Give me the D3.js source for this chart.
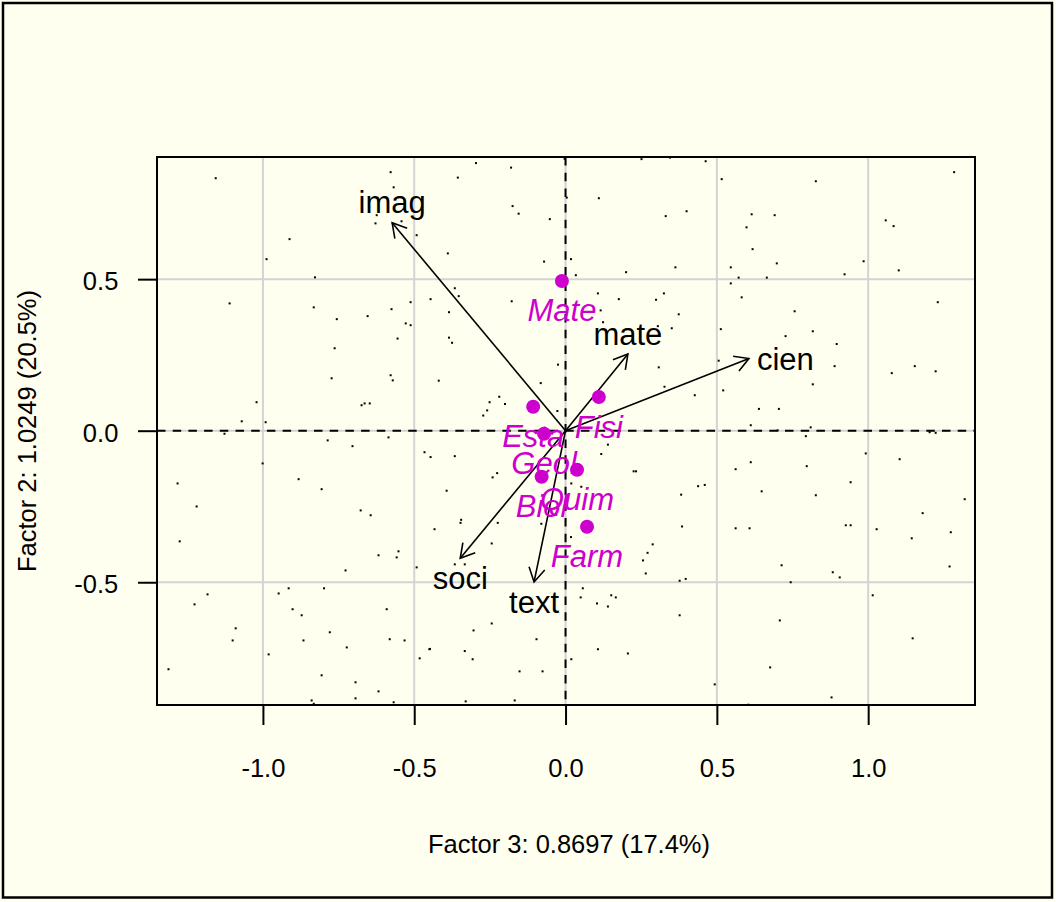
<!DOCTYPE html>
<html>
<head>
<meta charset="utf-8">
<script src="https://cdn.jsdelivr.net/npm/d3@7"></script>
<style>
  html, body { margin: 0; padding: 0; background: #FFFFF0; }
  svg { display: block; }
  text { font-family: "Liberation Sans", Arial, Helvetica, sans-serif; }
</style>
</head>
<body>
<script>
// ---- data ----
const xTicks = [-1.0, -0.5, 0.0, 0.5, 1.0];
const yTicks = [-0.5, 0.0, 0.5];
const xLabel = "Factor 3: 0.8697 (17.4%)";
const yLabel = "Factor 2: 1.0249 (20.5%)";

// individual scores (small dots)
const scoresX = [-1.156,-0.578,-0.568,-0.624,-0.628,-0.542,-0.492,-0.912,-0.988,-0.828,-1.110,-0.832,-0.575,-0.512,-0.756,-0.654,-0.528,-0.512,-0.555,
 -0.296,-0.180,-0.356,0.251,0.345,0.004,0.110,-0.175,-0.155,-0.052,0.331,0.400,-0.389,-0.071,0.018,0.363,0.200,0.034,-0.366,-0.353,-0.446,-0.178,-0.385,0.107,0.176,0.299,0.325,0.116,0.124,0.374,0.351,0.305,-0.385,
 0.463,0.516,0.827,1.284,0.615,0.691,0.598,1.058,1.084,0.618,0.698,0.546,0.985,1.101,0.572,0.665,0.922,0.546,0.582,1.230,0.757,0.513,0.817,0.727,
 -0.763,-0.773,-0.578,-0.571,-1.021,-0.674,-0.664,-0.647,-1.070,-0.991,-1.127,-0.786,-0.704,-0.585,-0.466,-1.001,-1.282,-0.882,-0.806,-1.219,-0.677,-0.644,
 -0.375,-0.419,-0.082,-0.025,0.308,0.327,0.427,-0.219,-0.251,-0.200,-0.259,-0.272,-0.027,0.140,0.118,-0.446,-0.366,0.225,0.233,-0.241,-0.226,0.019,0.052,-0.393,0.438,0.382,-0.345,
 0.896,0.506,0.889,1.078,1.154,1.223,0.521,0.817,0.639,0.705,0.612,0.701,0.810,0.794,1.203,1.223,0.992,1.104,0.612,0.562,0.797,0.460,0.648,0.942,0.827,1.319,1.180,
 -1.275,-0.618,-0.552,-0.558,-0.727,-0.492,-1.183,-1.226,-0.948,-0.915,-0.798,-0.902,-0.872,-0.591,-1.090,-1.100,-0.779,-0.866,-0.581,-0.532,-0.723,-0.981,-1.312,-0.482,-0.450,-0.806,-0.694,-0.618,-0.694,-0.839,-0.832,-0.568,
 -0.433,-0.347,-0.224,-0.080,0.018,-0.244,-0.366,-0.333,0.385,0.288,0.271,0.256,0.265,0.377,0.397,0.057,0.050,0.151,0.166,0.104,0.140,0.377,-0.244,-0.304,-0.096,-0.448,-0.333,-0.307,0.107,0.206,0.019,-0.152,-0.076,-0.330,-0.168,
 0.562,0.608,0.926,0.942,1.028,1.144,1.273,0.714,0.883,0.906,0.744,1.269,1.015,0.708,1.147,0.676,0.493,0.879,0.604,-0.003];
const scoresY = [0.833,0.853,0.803,0.711,0.684,0.691,0.645,0.632,0.566,0.506,0.420,0.407,0.401,0.424,0.368,0.378,0.354,0.348,0.304,
 0.883,0.868,0.835,0.896,0.901,0.769,0.767,0.741,0.716,0.698,0.708,0.724,0.585,0.558,0.566,0.539,0.523,0.513,0.470,0.444,0.434,0.427,0.391,0.453,0.434,0.432,0.453,0.397,0.358,0.384,0.338,0.345,0.307,
 0.889,0.830,0.823,0.853,0.714,0.711,0.671,0.694,0.675,0.599,0.552,0.539,0.559,0.529,0.505,0.505,0.516,0.486,0.440,0.424,0.394,0.335,0.328,0.312,
 0.272,0.173,0.183,0.166,0.094,0.084,0.090,0.090,0.031,0.028,-0.010,-0.032,-0.051,-0.022,-0.071,-0.108,-0.174,-0.160,-0.193,-0.250,-0.263,-0.279,
 0.290,0.165,0.157,0.218,0.209,0.145,0.117,0.112,0.094,0.088,0.067,0.050,0.065,-0.046,-0.077,-0.087,-0.084,-0.134,-0.134,-0.154,-0.140,-0.174,-0.185,-0.198,-0.183,-0.211,-0.294,
 0.286,0.231,0.213,0.190,0.213,0.196,0.133,0.153,0.072,0.072,0.018,0.001,0.011,-0.018,-0.005,-0.007,-0.075,-0.094,-0.104,-0.127,-0.117,-0.179,-0.200,-0.170,-0.213,-0.226,-0.272,
 -0.365,-0.411,-0.398,-0.418,-0.461,-0.451,-0.540,-0.573,-0.537,-0.520,-0.520,-0.589,-0.609,-0.589,-0.652,-0.692,-0.665,-0.692,-0.688,-0.692,-0.715,-0.738,-0.787,-0.751,-0.721,-0.807,-0.830,-0.860,-0.883,-0.890,-0.901,-0.896,
 -0.325,-0.304,-0.304,-0.307,-0.351,-0.372,-0.441,-0.441,-0.316,-0.375,-0.403,-0.428,-0.471,-0.495,-0.489,-0.520,-0.550,-0.543,-0.550,-0.570,-0.580,-0.609,-0.636,-0.659,-0.688,-0.720,-0.727,-0.754,-0.721,-0.735,-0.754,-0.794,-0.794,-0.893,-0.890,
 -0.322,-0.322,-0.312,-0.312,-0.325,-0.355,-0.335,-0.444,-0.467,-0.484,-0.500,-0.448,-0.543,-0.626,-0.685,-0.781,-0.837,-0.880,-0.904,0.897];

// variable loadings (arrows)
const varNames = ["imag", "mate", "cien", "soci", "text"];
const varX = [-0.573, 0.206, 0.606, -0.348, -0.104];
const varY = [0.686, 0.253, 0.238, -0.421, -0.499];
const varPos = [3, 3, 4, 1, 1]; // R text pos: 1 below, 3 above, 4 right

// supplementary group centroids (magenta)
const groupNames = ["Mate", "Fisi", "Esta", "Geol", "Quim", "Biol", "Farm"];
const groupX = [-0.012, 0.110, -0.107, -0.071, 0.038, -0.079, 0.071];
const groupY = [0.494, 0.111, 0.079, -0.010, -0.129, -0.152, -0.317];

// ---- drawing ----
const W = 1056, H = 902;
const M = { left: 157, right: 975, top: 157, bottom: 705 };
const BG = "#FFFFF0", MAG = "#CD00CD";
const FS = 25.5, FSL = 31;

const svg = d3.select("body").append("svg").attr("width", W).attr("height", H);
svg.append("rect").attr("x", 0).attr("y", 0).attr("width", W).attr("height", H).attr("fill", BG);

const x = d3.scaleLinear().domain([-1.35, 1.353]).range([M.left, M.right]);
const y = d3.scaleLinear().domain([-0.905, 0.903]).range([M.bottom, M.top]);

// grid
const g = svg.append("g");
g.selectAll("line.gx").data(xTicks).join("line")
  .attr("x1", d => x(d)).attr("x2", d => x(d)).attr("y1", M.top).attr("y2", M.bottom)
  .attr("stroke", "#D3D3D3").attr("stroke-width", 2);
g.selectAll("line.gy").data(yTicks).join("line").attr("class", "gy")
  .attr("y1", d => y(d)).attr("y2", d => y(d)).attr("x1", M.left).attr("x2", M.right)
  .attr("stroke", "#D3D3D3").attr("stroke-width", 2);

// zero dashed lines
svg.append("line").attr("x1", M.left).attr("x2", M.right).attr("y1", y(0)).attr("y2", y(0))
  .attr("stroke", "#000").attr("stroke-width", 2).attr("stroke-dasharray", "8.5,7.2");
svg.append("line").attr("x1", x(0)).attr("x2", x(0)).attr("y1", M.top).attr("y2", M.bottom)
  .attr("stroke", "#000").attr("stroke-width", 2).attr("stroke-dasharray", "8.5,7.2");

// scores
const scores = scoresX.map((v, i) => ({ x: v, y: scoresY[i] }));
svg.append("g").selectAll("rect").data(scores).join("rect")
  .attr("x", d => x(d.x) - 1).attr("y", d => y(d.y) - 1)
  .attr("width", 2).attr("height", 2).attr("fill", "#000");

// arrows
const vars = varNames.map((n, i) => ({ name: n, x: varX[i], y: varY[i], pos: varPos[i] }));
const ag = svg.append("g").attr("stroke", "#000").attr("stroke-width", 1.6).attr("fill", "none");
vars.forEach(v => {
  const x0 = x(0), y0 = y(0), x1 = x(v.x), y1 = y(v.y);
  ag.append("line").attr("x1", x0).attr("y1", y0).attr("x2", x1).attr("y2", y1);
  const ang = Math.atan2(y1 - y0, x1 - x0);
  const L = 16, a = Math.PI / 6;
  const p1 = [x1 - L * Math.cos(ang - a), y1 - L * Math.sin(ang - a)];
  const p2 = [x1 - L * Math.cos(ang + a), y1 - L * Math.sin(ang + a)];
  ag.append("path").attr("d", `M${p1[0]},${p1[1]}L${x1},${y1}L${p2[0]},${p2[1]}`);
});
svg.append("g").selectAll("text").data(vars).join("text")
  .attr("x", d => d.pos === 4 ? x(d.x) + 8 : x(d.x))
  .attr("y", d => d.pos === 3 ? y(d.y) - 9.5 : d.pos === 1 ? y(d.y) + 31 : y(d.y) + 11.6)
  .attr("text-anchor", d => d.pos === 4 ? "start" : "middle")
  .attr("font-size", FSL).attr("fill", "#000")
  .text(d => d.name);

// group centroids
const groups = groupNames.map((n, i) => ({ name: n, x: groupX[i], y: groupY[i] }));
svg.append("g").selectAll("circle").data(groups).join("circle")
  .attr("cx", d => x(d.x)).attr("cy", d => y(d.y)).attr("r", 7).attr("fill", MAG);
svg.append("g").selectAll("text").data(groups).join("text")
  .attr("x", d => x(d.x)).attr("y", d => y(d.y) + 40.5)
  .attr("text-anchor", "middle").attr("font-size", FSL).attr("font-style", "italic")
  .attr("fill", MAG).text(d => d.name);

// axes
const fmt = d => d.toFixed(1);
const xAxis = svg.append("g").attr("transform", `translate(0,${M.bottom})`)
  .call(d3.axisBottom(x).tickValues(xTicks).tickFormat(fmt).tickSize(20).tickPadding(33.9));
const yAxis = svg.append("g").attr("transform", `translate(${M.left},0)`)
  .call(d3.axisLeft(y).tickValues(yTicks).tickFormat(fmt).tickSize(19).tickPadding(19.7));
[xAxis, yAxis].forEach(ax => {
  ax.select(".domain").remove();
  ax.selectAll(".tick line").attr("stroke", "#000").attr("stroke-width", 2);
  ax.selectAll(".tick text").attr("fill", "#000").attr("font-size", FS)
    .attr("font-family", "'Liberation Sans', Arial, sans-serif");
});
yAxis.selectAll(".tick text").attr("dy", "0.42em");

// box
svg.append("rect").attr("x", M.left).attr("y", M.top)
  .attr("width", M.right - M.left).attr("height", M.bottom - M.top)
  .attr("fill", "none").attr("stroke", "#000").attr("stroke-width", 2);

// axis titles
svg.append("text").attr("x", (M.left + M.right) / 2 + 3).attr("y", 853)
  .attr("text-anchor", "middle").attr("font-size", FS).attr("fill", "#000").text(xLabel);
svg.append("text").attr("transform", `translate(36,${(M.top + M.bottom) / 2}) rotate(-90)`)
  .attr("text-anchor", "middle").attr("font-size", FS).attr("fill", "#000").text(yLabel);

// outer frame
svg.append("rect").attr("x", 3).attr("y", 3).attr("width", 1049).attr("height", 894.5)
  .attr("fill", "none").attr("stroke", "#000").attr("stroke-width", 2.5);
</script>
</body>
</html>
